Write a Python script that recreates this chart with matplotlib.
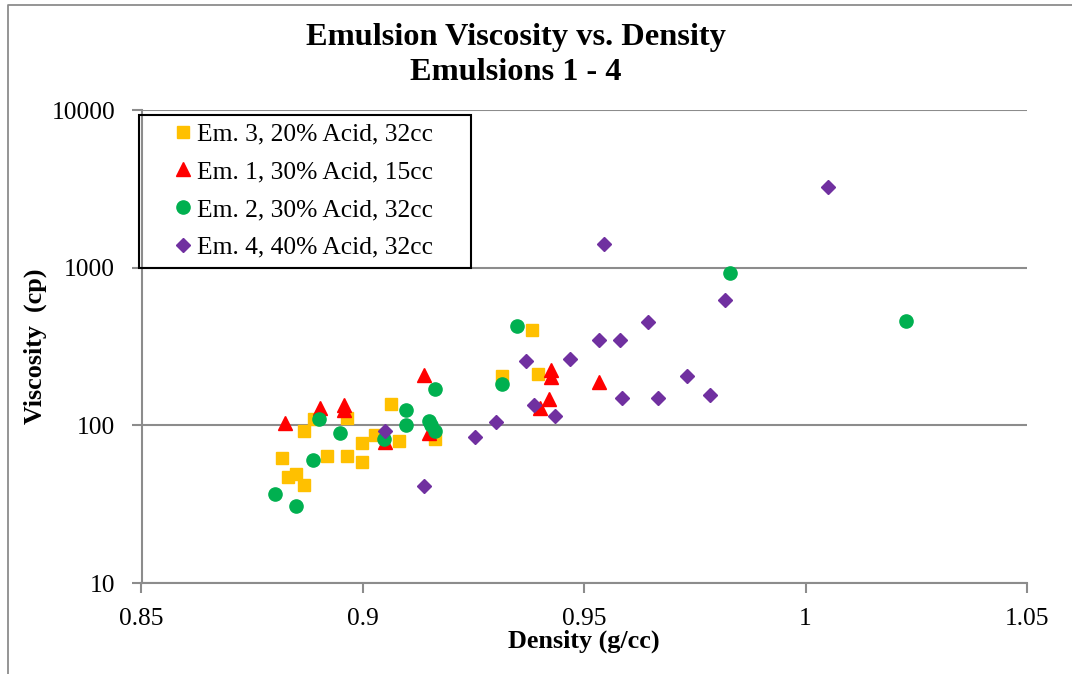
import matplotlib
matplotlib.use("Agg")
import matplotlib.pyplot as plt
from matplotlib.patches import Rectangle
from matplotlib.lines import Line2D

plt.rcParams['font.family'] = ['Liberation Serif', 'DejaVu Serif']

# Em. 3, 20% Acid, 32cc
em3_x = [0.8818, 0.8832, 0.8848, 0.8866, 0.8866, 0.8890, 0.8918, 0.8965, 0.8965,
         0.8999, 0.8999, 0.9028, 0.9064, 0.9081, 0.9162, 0.9382, 0.9396, 0.9315]
em3_y = [62.5, 47.3, 48.9, 41.9, 92, 110, 64, 112, 64,
         77.7, 58.9, 86.8, 136, 80, 81.5, 401, 212, 205]

# Em. 1, 30% Acid, 15cc
em1_x = [0.8823, 0.8904, 0.8957, 0.8957, 0.9051, 0.9137, 0.9149,
         0.9426, 0.9426, 0.9421, 0.9399, 0.9534]
em1_y = [104, 128, 134, 126, 78, 210, 90,
         223, 203, 146, 128, 188]

# Em. 2, 30% Acid, 32cc
em2_x = [0.8801, 0.8848, 0.8887, 0.8900, 0.8948, 0.9047, 0.9098, 0.9098,
         0.9149, 0.9153, 0.9162, 0.9163, 0.9348, 0.9314, 0.9830, 1.0227]
em2_y = [36.7, 31, 60.7, 109, 89.4, 82.4, 125, 100,
         106, 100, 91.6, 170, 425, 184, 925, 462]

# Em. 4, 40% Acid, 32cc
em4_x = [0.9051, 0.9137, 0.9253, 0.9301, 0.9369, 0.9387, 0.9435, 0.9468, 0.9534,
         0.9580, 0.9585, 0.9645, 0.9667, 0.9731, 0.9783, 0.9818, 1.0050, 0.9545]
em4_y = [92, 41.3, 84.8, 105, 257, 135, 115, 264, 349,
         349, 148, 451, 148, 206, 155, 627, 3240, 1419]

x_ticks = [0.85, 0.9, 0.95, 1.0, 1.05]
x_tick_labels = ['0.85', '0.9', '0.95', '1', '1.05']
y_ticks = [10, 100, 1000, 10000]
y_tick_labels = ['10', '100', '1000', '10000']

W, H = 1072, 674
fig = plt.figure(figsize=(W / 100, H / 100), dpi=100)
ax = fig.add_axes([141.5 / W, 1 - 583 / H, (1027 - 141.5) / W, (583 - 110) / H])

# outer chart border (only top and left edges visible in the crop)
fig.lines.append(Line2D([8 / W, 8 / W, 1.0], [0.0, 1 - 5 / H, 1 - 5 / H],
                        transform=fig.transFigure, color='#8c8c8c', linewidth=1.3))

ax.plot(em3_x, em3_y, 's', color='#FFC000', markersize=9, label='Em. 3, 20% Acid, 32cc')
ax.plot(em1_x, em1_y, '^', color='#FF0000', markersize=9.5, label='Em. 1, 30% Acid, 15cc')
ax.plot(em2_x, em2_y, 'o', color='#00B050', markersize=9.5, label='Em. 2, 30% Acid, 32cc')
ax.plot(em4_x, em4_y, 'D', color='#7030A0', markersize=7, label='Em. 4, 40% Acid, 32cc')

ax.set_yscale('log')
ax.set_xlim(0.85, 1.05)
ax.set_ylim(10, 10000)
ax.set_xticks(x_ticks)
ax.set_xticklabels(x_tick_labels)
ax.set_yticks(y_ticks)
ax.set_yticklabels(y_tick_labels)
ax.minorticks_off()
ax.yaxis.grid(True, color='#8c8c8c', linewidth=1.5)
ax.set_axisbelow(True)

for s in ['top', 'right']:
    ax.spines[s].set_visible(False)
for s in ['left', 'bottom']:
    ax.spines[s].set_color('#8c8c8c')
    ax.spines[s].set_linewidth(1.5)
ax.tick_params(axis='both', labelsize=18.4, color='#8c8c8c', width=1.5, length=7)
ax.tick_params(axis='y', pad=12)
ax.tick_params(axis='x', pad=11)

ax.set_xlabel('Density (g/cc)', fontsize=18.8, fontweight='bold', labelpad=0)
ax.set_ylabel('Viscosity  (cp)', fontsize=18.8, fontweight='bold', labelpad=3)
fig.text(516 / W, 1 - 55 / H, 'Emulsion Viscosity vs. Density\nEmulsions 1 - 4',
         ha='center', va='center', fontsize=23.3, fontweight='bold', linespacing=1.29)

# legend: entries without frame, frame drawn separately (wider side padding)
leg = ax.legend(loc='upper left', bbox_to_anchor=(168 / W, 1 - 115 / H),
                bbox_transform=fig.transFigure, borderaxespad=0, fontsize=18.4,
                frameon=False, handlelength=0.6, handletextpad=0.25,
                borderpad=0.3, labelspacing=0.58)
fig.patches.append(Rectangle((139 / W, 1 - 268 / H), (471 - 139) / W, (268 - 115) / H,
                             transform=fig.transFigure, fill=False,
                             edgecolor='black', linewidth=1.5, zorder=5))

fig.savefig('out.png', dpi=100)
